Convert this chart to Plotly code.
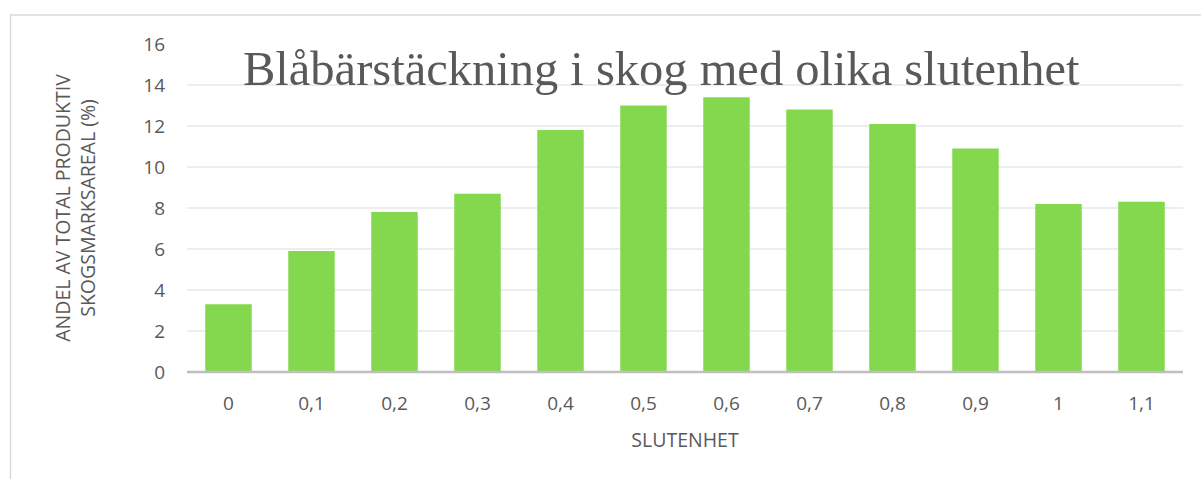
import plotly.graph_objects as go

categories = ["0", "0,1", "0,2", "0,3", "0,4", "0,5", "0,6", "0,7", "0,8", "0,9", "1", "1,1"]
values = [3.3, 5.9, 7.8, 8.7, 11.8, 13.0, 13.4, 12.8, 12.1, 10.9, 8.2, 8.3]
y_ticks = [0, 2, 4, 6, 8, 10, 12, 14, 16]

W, H = 1201, 479
L, R, T, B = 187, 18, 44, 107
pw, ph = W - L - R, H - T - B

def px(x):
    return (x - L) / pw

def py(y):
    return (H - B - y) / ph

fig = go.Figure(go.Bar(x=categories, y=values, marker=dict(color="#83D84E", line=dict(width=0))))

fig.update_layout(
    width=W, height=H,
    margin=dict(l=L, r=R, t=T, b=B),
    paper_bgcolor="white", plot_bgcolor="white",
    bargap=0.44,
    showlegend=False,
    font=dict(family="Open Sans, DejaVu Sans, sans-serif", color="#595959", size=19),
    xaxis=dict(type="category", showgrid=False, showline=False, ticks="", ticklabelstandoff=18,
               tickfont=dict(size=19),
               title=dict(text="SLUTENHET", font=dict(size=19.5), standoff=18)),
    yaxis=dict(range=[0, 16], tickvals=y_ticks, showgrid=True, gridcolor="#EDEDED", gridwidth=1.5,
               zeroline=False, showline=False, ticks="", ticklabelstandoff=21,
               tickfont=dict(size=19),
               title=dict(text="ANDEL AV TOTAL PRODUKTIV<br>SKOGSMARKSAREAL (%)", font=dict(size=19.5), standoff=42)),
    shapes=[
        dict(type="line", xref="paper", yref="paper", x0=0, x1=1, y0=0, y1=0,
             line=dict(color="#BFBFBF", width=2.5)),
        dict(type="path", xref="paper", yref="paper",
             path=f"M {px(10.5)} {py(479)} L {px(10.5)} {py(15)} L {px(1201)} {py(15)}",
             line=dict(color="#D9D9D9", width=1.5)),
    ],
    annotations=[
        dict(text="Blåbärstäckning i skog med olika slutenhet", xref="paper", yref="paper",
             x=px(661), y=py(69), xanchor="center", yanchor="middle", showarrow=False,
             font=dict(family="Liberation Serif, DejaVu Serif, serif", size=48.5, color="#595959")),
    ],
)

fig.write_html("out.html", config={"displayModeBar": False},
               post_script="document.body.style.margin='0';document.body.style.overflow='hidden';")
